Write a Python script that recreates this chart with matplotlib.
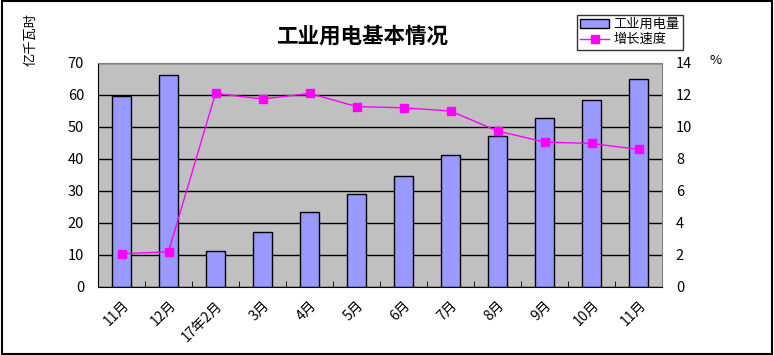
import numpy as np
import matplotlib.pyplot as plt

plt.rcParams['font.family'] = ['Noto Sans CJK SC', 'DejaVu Sans']

months = ['11月', '12月', '17年2月', '3月', '4月', '5月', '6月', '7月', '8月', '9月', '10月', '11月']
power = [59.7, 66.2, 11.2, 17.1, 23.4, 29.1, 34.7, 41.2, 47.2, 52.8, 58.4, 65.0]
growth = [2.08, 2.2, 12.1, 11.75, 12.1, 11.28, 11.2, 11.0, 9.75, 9.06, 8.97, 8.6]

fig = plt.figure(figsize=(7.74, 3.55), dpi=100)
ax = fig.add_axes([98/774, 68/355, 564/774, 224/355])
ax.set_facecolor('#c0c0c0')
x = np.arange(len(months))

ax.set_ylim(0, 70)
ax.set_xlim(-0.5, len(months) - 0.5)
ax.set_yticks(range(0, 71, 10))
ax.yaxis.grid(True, color='black', lw=1)
ax.set_axisbelow(True)
bars = ax.bar(x, power, width=0.4, color='#9999ff', edgecolor='black', lw=1, label='工业用电量', zorder=2)

ax.set_xticks(x)
ax.set_xticklabels(months, rotation=45, ha='right', rotation_mode='anchor', fontsize=10)
ax.set_xticks(np.arange(-0.5, len(months), 1), minor=True)
ax.tick_params(axis='x', which='major', length=0, pad=8)
ax.tick_params(axis='x', which='minor', direction='in', length=4, color='black')
ax.tick_params(axis='y', length=0, labelsize=10.5, pad=10)
for s in ['top', 'right']:
    ax.spines[s].set_color('#808080')
ax.spines['left'].set_color('black')
ax.spines['bottom'].set_color('black')

ax2 = ax.twinx()
ax2.set_ylim(0, 14)
ax2.set_yticks(range(0, 15, 2))
ax2.tick_params(axis='y', length=0, labelsize=10.5, pad=10)
line, = ax2.plot(x, growth, color='#ff00ff', lw=1, marker='s', ms=6, label='增长速度')
for s in ax2.spines.values():
    s.set_visible(False)

fig.text(31/774, 1 - 40/355, '亿千瓦时', rotation=90, fontsize=9.5, va='center', ha='center')
fig.text(716/774, 1 - 60/355, '%', fontsize=9.5, ha='center', va='center')
fig.text(362/774, 1 - 36/355, '工业用电基本情况', fontsize=15.5, fontweight='bold', ha='center', va='center')

leg = fig.legend([bars, line], ['工业用电量', '增长速度'], loc='upper left',
                 bbox_to_anchor=(577/774, 1 - 15/355), frameon=True, fancybox=False,
                 edgecolor='black', fontsize=9.5, handlelength=2.2, borderpad=0.25,
                 labelspacing=0.15, handletextpad=0.3, borderaxespad=0)
leg.get_frame().set_linewidth(1)

fig.patches.append(plt.Rectangle((0.002, 0.003), 0.996, 0.994, transform=fig.transFigure,
                                 fill=False, edgecolor='black', lw=1.5))
fig.savefig('out.png', dpi=100)
